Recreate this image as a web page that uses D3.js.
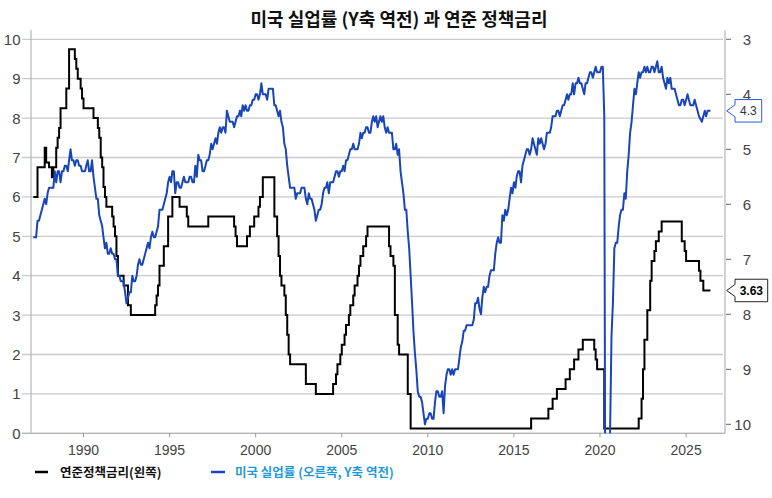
<!DOCTYPE html>
<html><head><meta charset="utf-8">
<script src="https://cdn.jsdelivr.net/npm/d3@7/dist/d3.min.js"></script>
<style>body{margin:0;background:#fff;} svg{display:block;}</style>
</head><body><svg id="c" width="772" height="498"></svg>
<script>
// ---------- data ----------
const titleText = "미국 실업률 (Y축 역전) 과 연준 정책금리";
const fedLabel = "연준정책금리(왼쪽)";
const unempLabel = "미국 실업률 (오른쪽, Y축 역전)";
const xTickYears = [1990, 1995, 2000, 2005, 2010, 2015, 2020, 2025];
const leftTicks = [0, 1, 2, 3, 4, 5, 6, 7, 8, 9, 10];
const rightTicks = [3, 4, 5, 6, 7, 8, 9, 10];

// Fed funds policy rate (target / range midpoint): month of change and new level
const fedMonths = ["1987-01","1987-04","1987-09","1987-10","1987-12","1988-02","1988-03","1988-05","1988-06","1988-07","1988-08","1988-12","1989-02","1989-06","1989-07","1989-08","1989-10","1989-11","1989-12",
"1990-07","1990-10","1990-11","1990-12","1991-01","1991-02","1991-03","1991-04","1991-08","1991-09","1991-10","1991-11","1991-12","1992-04","1992-07","1992-09",
"1994-02","1994-03","1994-04","1994-05","1994-08","1994-11","1995-02","1995-07","1995-12","1996-01","1997-03","1998-09","1998-10","1998-11","1999-06","1999-08","1999-11",
"2000-02","2000-03","2000-05","2001-01","2001-03","2001-04","2001-05","2001-06","2001-08","2001-09","2001-10","2001-11","2001-12","2002-11","2003-06",
"2004-06","2004-08","2004-09","2004-11","2004-12","2005-02","2005-03","2005-05","2005-06","2005-08","2005-09","2005-11","2005-12","2006-01","2006-03","2006-05","2006-06",
"2007-09","2007-10","2007-12","2008-01","2008-03","2008-04","2008-10","2008-12","2015-12","2016-12","2017-03","2017-06","2017-12","2018-03","2018-06","2018-09","2018-12",
"2019-08","2019-09","2019-10","2020-03","2022-03","2022-05","2022-06","2022-07","2022-09","2022-11","2022-12","2023-02","2023-03","2023-05","2023-07",
"2024-09","2024-11","2024-12","2025-09","2025-10","2025-12","2026-05"];
const fedRates = [6.0,6.75,7.25,6.875,6.75,6.5,6.75,7.25,7.5,7.75,8.25,8.75,9.75,9.5,9.25,9.0,8.75,8.5,8.25,
8.0,7.75,7.5,7.0,6.75,6.25,6.0,5.75,5.5,5.25,5.0,4.5,4.0,3.75,3.25,3.0,
3.25,3.5,3.75,4.25,4.75,5.5,6.0,5.75,5.5,5.25,5.5,5.25,5.0,4.75,5.0,5.25,5.5,
5.75,6.0,6.5,5.5,5.0,4.5,4.0,3.75,3.5,3.0,2.5,2.0,1.75,1.25,1.0,
1.25,1.5,1.75,2.0,2.25,2.5,2.75,3.0,3.25,3.5,3.75,4.0,4.25,4.5,4.75,5.0,5.25,
4.75,4.5,4.25,3.0,2.25,2.0,1.0,0.125,0.375,0.625,0.875,1.125,1.375,1.625,1.875,2.125,2.375,
2.125,1.875,1.625,0.125,0.375,0.875,1.625,2.375,3.125,3.875,4.375,4.625,4.875,5.125,5.375,
4.875,4.625,4.375,4.125,3.875,3.625,3.625];

// US unemployment rate, monthly from 1987-01 (null = not published)
const unempStart = [1987, 1];
const unemployment = [
6.6,6.6,6.6,6.3,6.3,6.2,6.1,6.0,5.9,6.0,5.8,5.7,
5.7,5.7,5.7,5.4,5.6,5.4,5.4,5.6,5.4,5.4,5.3,5.3,
5.4,5.2,5.0,5.2,5.2,5.3,5.2,5.2,5.3,5.3,5.4,5.4,
5.4,5.3,5.2,5.4,5.4,5.2,5.5,5.7,5.9,5.9,6.2,6.3,
6.4,6.6,6.8,6.7,6.9,6.9,6.8,6.9,6.9,7.0,7.0,7.3,
7.3,7.4,7.4,7.4,7.6,7.8,7.7,7.6,7.6,7.3,7.4,7.4,
7.3,7.1,7.0,7.1,7.1,7.0,6.9,6.8,6.7,6.8,6.6,6.5,
6.6,6.6,6.5,6.4,6.1,6.1,6.1,6.0,5.9,5.8,5.6,5.5,
5.6,5.4,5.4,5.8,5.6,5.6,5.7,5.7,5.6,5.5,5.6,5.6,
5.6,5.5,5.5,5.6,5.6,5.3,5.5,5.1,5.2,5.2,5.4,5.4,
5.3,5.2,5.2,5.1,4.9,5.0,4.9,4.8,4.9,4.7,4.6,4.7,
4.6,4.6,4.7,4.3,4.4,4.5,4.5,4.5,4.6,4.5,4.4,4.4,
4.3,4.4,4.2,4.3,4.2,4.3,4.3,4.2,4.2,4.1,4.1,4.0,
4.0,4.1,4.0,3.8,4.0,4.0,4.0,4.1,3.9,3.9,3.9,3.9,
4.2,4.2,4.3,4.4,4.3,4.5,4.6,4.9,5.0,5.3,5.5,5.7,
5.7,5.7,5.7,5.9,5.8,5.8,5.8,5.7,5.7,5.7,5.9,6.0,
5.8,5.9,5.9,6.0,6.1,6.3,6.2,6.1,6.1,6.0,5.8,5.7,
5.7,5.6,5.8,5.6,5.6,5.6,5.5,5.4,5.4,5.5,5.4,5.4,
5.3,5.4,5.2,5.2,5.1,5.0,5.0,4.9,5.0,5.0,5.0,4.9,
4.7,4.8,4.7,4.7,4.6,4.6,4.7,4.7,4.5,4.4,4.5,4.4,
4.6,4.5,4.4,4.5,4.4,4.6,4.7,4.6,4.7,4.7,4.7,5.0,
5.0,4.9,5.1,5.0,5.4,5.6,5.8,6.1,6.1,6.5,6.8,7.3,
7.8,8.3,8.7,9.0,9.4,9.5,9.5,9.6,9.8,10.0,9.9,9.9,
9.8,9.8,9.9,9.9,9.6,9.4,9.4,9.5,9.5,9.4,9.8,9.3,
9.1,9.0,9.0,9.1,9.0,9.1,9.0,9.0,9.0,8.8,8.6,8.5,
8.3,8.3,8.2,8.2,8.2,8.2,8.2,8.1,7.8,7.8,7.7,7.9,
8.0,7.7,7.5,7.6,7.5,7.5,7.3,7.2,7.2,7.2,6.9,6.7,
6.6,6.7,6.7,6.2,6.3,6.1,6.2,6.1,5.9,5.7,5.8,5.6,
5.7,5.5,5.4,5.4,5.6,5.3,5.2,5.1,5.0,5.0,5.1,5.0,
4.8,4.9,5.0,5.1,4.8,4.9,4.8,4.9,5.0,4.9,4.7,4.7,
4.7,4.6,4.4,4.4,4.4,4.3,4.3,4.4,4.3,4.2,4.2,4.1,
4.0,4.1,4.0,4.0,3.8,4.0,3.8,3.8,3.7,3.8,3.8,3.9,
4.0,3.8,3.8,3.7,3.6,3.6,3.7,3.6,3.5,3.6,3.6,3.6,
3.5,3.5,4.4,14.8,13.2,11.0,10.2,8.4,7.8,6.8,6.7,6.7,
6.4,6.2,6.1,6.1,5.8,5.9,5.4,5.1,4.7,4.5,4.2,3.9,
4.0,3.8,3.6,3.7,3.6,3.6,3.5,3.6,3.5,3.6,3.6,3.5,
3.5,3.6,3.5,3.4,3.6,3.6,3.5,3.7,3.8,3.9,3.7,3.8,
3.7,3.9,3.9,3.9,4.0,4.1,4.2,4.2,4.1,4.1,4.2,4.1,
4.0,4.1,4.2,4.2,4.2,4.1,4.2,4.3,4.4,null,4.5,4.4,
4.3,4.4,4.3,4.3,4.3
];

// ---------- drawing ----------
const svg = d3.select("#c");
const plot = {left: 31, right: 725, top: 30, bottom: 433.3};
const fontNum = "Arial, 'Liberation Sans', sans-serif";
const fontKr = "'Noto Sans CJK KR', 'Noto Sans', sans-serif";
const blue = "#1845b8";

// monthly value plotted at end of its month
const monthEnd = (y, m) => new Date(y, m, 1); // m is 1-based month

const x = d3.scaleTime()
  .domain([new Date(1986, 11, 14), new Date(2027, 3, 6)])
  .range([plot.left, plot.right]);
const yL = d3.scaleLinear().domain([0, 10]).range([433.3, 39.3]);
const yR = d3.scaleLinear().domain([3, 10]).range([39.3, 424.3]);

const fedData = fedMonths.map((s, i) => {
  const [yy, mm] = s.split("-").map(Number);
  return {date: monthEnd(yy, mm), v: fedRates[i]};
});
const unempData = unemployment.map((v, i) => ({
  date: monthEnd(unempStart[0], unempStart[1] + i), v
})).filter(d => d.v !== null);

// gridlines (left axis)
svg.append("g").selectAll("line").data(leftTicks).join("line")
  .attr("x1", 22).attr("x2", 723)
  .attr("y1", d => yL(d)).attr("y2", d => yL(d))
  .attr("stroke", "#cacaca").attr("stroke-width", 1.3);

// axis frame lines
svg.append("line").attr("x1", plot.left).attr("x2", plot.left).attr("y1", plot.top).attr("y2", plot.bottom)
  .attr("stroke", "#b5b5b5").attr("stroke-width", 1.2);
svg.append("line").attr("x1", plot.right).attr("x2", plot.right).attr("y1", plot.top).attr("y2", plot.bottom)
  .attr("stroke", "#b5b5b5").attr("stroke-width", 1.2);
svg.append("line").attr("x1", 22).attr("x2", plot.right).attr("y1", plot.bottom).attr("y2", plot.bottom)
  .attr("stroke", "#b5b5b5").attr("stroke-width", 1.2);

// left tick labels
svg.append("g").selectAll("text").data(leftTicks).join("text")
  .attr("x", 20.5).attr("y", d => yL(d)).attr("dy", "0.36em")
  .attr("text-anchor", "end").attr("font-family", fontNum).attr("font-size", 15)
  .attr("fill", "#444").text(d => d);

// right axis ticks + labels
svg.append("g").selectAll("line").data(rightTicks).join("line")
  .attr("x1", 726).attr("x2", 731).attr("y1", d => yR(d)).attr("y2", d => yR(d))
  .attr("stroke", "#666").attr("stroke-width", 1);
svg.append("g").selectAll("text").data(rightTicks).join("text")
  .attr("x", 751).attr("y", d => yR(d)).attr("dy", "0.36em")
  .attr("text-anchor", "end").attr("font-family", fontNum).attr("font-size", 15)
  .attr("fill", "#444").text(d => d);

// x axis ticks + labels
const xt = xTickYears.map(yv => new Date(yv, 0, 1));
svg.append("g").selectAll("line").data(xt).join("line")
  .attr("x1", d => x(d)).attr("x2", d => x(d)).attr("y1", plot.bottom).attr("y2", plot.bottom + 4)
  .attr("stroke", "#999");
svg.append("g").selectAll("text").data(xt).join("text")
  .attr("x", d => x(d)).attr("y", 455).attr("text-anchor", "middle")
  .attr("font-family", fontNum).attr("font-size", 14).attr("fill", "#444")
  .text(d => d.getFullYear());

// clip
svg.append("defs").append("clipPath").attr("id", "clip").append("rect")
  .attr("x", plot.left).attr("y", plot.top).attr("width", plot.right - plot.left).attr("height", plot.bottom - plot.top);

const fedLine = d3.line().x(d => x(d.date)).y(d => yL(d.v)).curve(d3.curveStepAfter);
const unLine = d3.line().x(d => x(d.date)).y(d => yR(d.v));

const g = svg.append("g").attr("clip-path", "url(#clip)");
g.append("path").datum(fedData).attr("d", fedLine)
  .attr("fill", "none").attr("stroke", "#000").attr("stroke-width", 2);
g.append("path").datum(unempData).attr("d", unLine)
  .attr("fill", "none").attr("stroke", blue).attr("stroke-width", 2).attr("stroke-linejoin", "round");

// end-value callouts
function callout(yTip, w, txt, stroke, bold, color) {
  const tipX = 726.7, bx = 735, h = 22.5, top = yTip - h / 2;
  const p = d3.path();
  p.moveTo(tipX, yTip);
  p.lineTo(bx, yTip - 6);
  p.lineTo(bx, top);
  p.lineTo(bx + w, top);
  p.lineTo(bx + w, top + h);
  p.lineTo(bx, top + h);
  p.lineTo(bx, yTip + 6);
  p.closePath();
  svg.append("path").attr("d", p.toString()).attr("fill", "#fff").attr("stroke", stroke).attr("stroke-width", 1);
  svg.append("text").attr("x", bx + w / 2).attr("y", yTip).attr("dy", "0.36em")
    .attr("text-anchor", "middle").attr("font-family", fontNum).attr("font-size", 12)
    .attr("font-weight", bold ? "bold" : "normal").attr("fill", color).text(txt);
}
const lastU = unempData[unempData.length - 1].v;
const lastF = fedData[fedData.length - 1].v;
callout(yR(lastU), 26.7, d3.format(".1f")(lastU), "#2a5bd7", false, "#334");
callout(yL(lastF), 32.7, d3.format(".2f")(lastF), "#222", true, "#000");

// title
svg.append("text").attr("x", 399).attr("y", 26).attr("text-anchor", "middle")
  .attr("font-family", fontKr).attr("font-size", 18).attr("font-weight", "bold")
  .attr("fill", "#111").text(titleText);

// legend
svg.append("line").attr("x1", 35).attr("x2", 48).attr("y1", 472).attr("y2", 472)
  .attr("stroke", "#000").attr("stroke-width", 2.5);
svg.append("text").attr("x", 60).attr("y", 476.5).attr("font-family", fontKr)
  .attr("font-size", 12.5).attr("font-weight", "bold").attr("fill", "#111").text(fedLabel);
svg.append("line").attr("x1", 211).attr("x2", 225).attr("y1", 472).attr("y2", 472)
  .attr("stroke", blue).attr("stroke-width", 2.5);
svg.append("text").attr("x", 235).attr("y", 476.5).attr("font-family", fontKr)
  .attr("font-size", 12.5).attr("font-weight", "bold").attr("fill", "#1f9ad8").text(unempLabel);
</script></body></html>
